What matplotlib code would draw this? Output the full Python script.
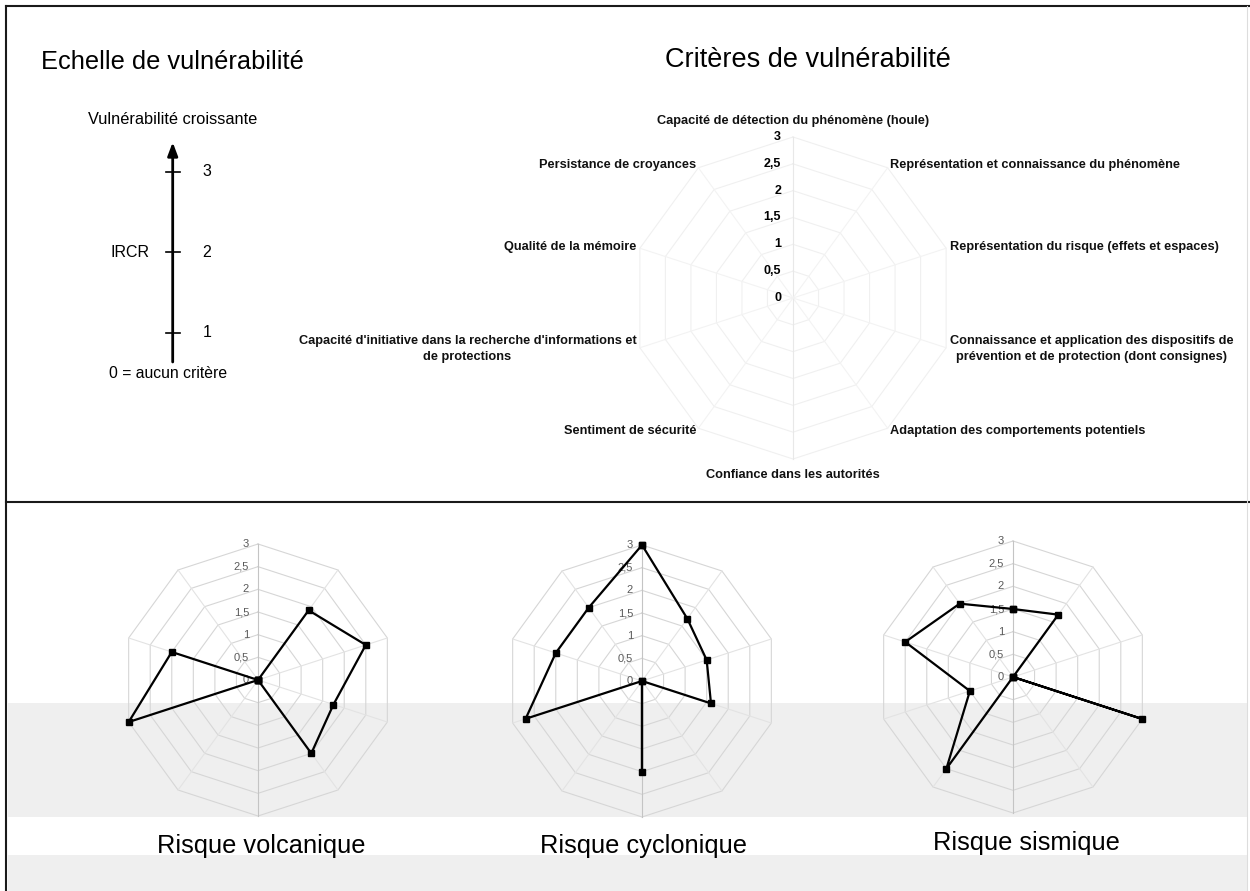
import numpy as np
import matplotlib
matplotlib.use('Agg')
import matplotlib.pyplot as plt
from matplotlib.patches import Rectangle
from matplotlib.transforms import offset_copy

plt.rcParams['font.family'] = ['Liberation Sans', 'DejaVu Sans']

# ---------------- data ----------------
criteres = [
    "Capacité de détection du phénomène (houle)",
    "Représentation et connaissance du phénomène",
    "Représentation du risque (effets et espaces)",
    "Connaissance et application des dispositifs de\nprévention et de protection (dont consignes)",
    "Adaptation des comportements potentiels",
    "Confiance dans les autorités",
    "Sentiment de sécurité",
    "Capacité d'initiative dans la recherche d'informations et\nde protections",
    "Qualité de la mémoire",
    "Persistance de croyances",
]
rticks = [0, 0.5, 1, 1.5, 2, 2.5, 3]
rtick_labels = ["0", "0,5", "1", "1,5", "2", "2,5", "3"]

volcanique = [0, 1.9, 2.5, 1.75, 2.0, 0, 0, 3.0, 2.0, 0]
cyclonique = [3.0, 1.7, 1.5, 1.6, 0, 2.0, 0, 2.7, 2.0, 2.0]
sismique = [1.5, 1.7, 0, 3.0, 0, 0, 2.5, 1.0, 2.5, 2.0]
titres_risques = ["Risque volcanique", "Risque cyclonique", "Risque sismique"]

echelle_niveaux = [1, 2, 3]
echelle_labels = ["1", "2", "3"]

# ---------------- figure ----------------
W, H = 1250, 891
fig = plt.figure(figsize=(12.5, 8.91), dpi=100)


def px_axes(x0, y0, w, h, **kw):
    return fig.add_axes([x0 / W, 1 - (y0 + h) / H, w / W, h / H], **kw)


ov = px_axes(0, 0, W, H)
ov.set_xlim(0, W)
ov.set_ylim(H, 0)
ov.axis('off')
ov.add_patch(Rectangle((8, 703), 1239, 114, facecolor='#efefef', lw=0, zorder=0))
ov.add_patch(Rectangle((8, 855), 1239, 36, facecolor='#efefef', lw=0, zorder=0))
ov.plot([6, 6], [6, H], color='#1a1a1a', lw=1.5)
ov.plot([6, W], [6, 6], color='#1a1a1a', lw=1.5)
ov.plot([6, W], [502, 502], color='#1a1a1a', lw=1.5)
ov.plot([1247, 1247], [6, H], color='#dddddd', lw=0.8)
ov.text(172, 62, "Echelle de vulnérabilité", fontsize=18.3, ha='center', va='center')
ov.text(808, 60, "Critères de vulnérabilité", fontsize=19.5, ha='center', va='center')

# ---------------- vulnerability scale ----------------
sc = px_axes(92.7, 130, 160, 270)
sc.set_xlim(-1, 1)
sc.set_ylim(0.1677, 3.5217)
sc.axis('off')
sc.annotate('', xy=(0, 3.37), xytext=(0, 0.64),
            arrowprops=dict(arrowstyle='-|>,head_length=0.8,head_width=0.3',
                            color='black', lw=2, shrinkA=0, shrinkB=0))
for v, lab in zip(echelle_niveaux, echelle_labels):
    sc.plot([-0.085, 0.085], [v, v], color='black', lw=1.2)
    sc.text(0.425, v, lab, fontsize=11.5, ha='center', va='center')
sc.text(-0.53, echelle_niveaux[1], "IRCR", fontsize=11.5, ha='center', va='center')
sc.text(0, 3.646, "Vulnérabilité croissante", fontsize=11.8, ha='center', va='center', clip_on=False)
sc.text(-0.06, 0.503, "0 = aucun critère", fontsize=11.3, ha='center', va='center', clip_on=False)

# ---------------- radar helper ----------------
n = len(criteres)
theta = np.linspace(0, 2 * np.pi, n, endpoint=False)
tc = np.append(theta, theta[0])


def radar(cx, cy, R, ring_color, spoke_color, axis_color):
    ax = px_axes(cx - R, cy - R, 2 * R, 2 * R, projection='polar')
    ax.set_theta_zero_location('N')
    ax.set_theta_direction(-1)
    ax.set_ylim(0, 3)
    ax.set_facecolor('none')
    ax.grid(False)
    ax.spines['polar'].set_visible(False)
    ax.set_xticks([])
    ax.set_yticks([])
    for r in rticks[1:]:
        ax.plot(tc, [r] * (n + 1), color=ring_color, lw=0.8, zorder=1, clip_on=False)
    for i, t in enumerate(theta):
        c = axis_color if i in (0, n // 2) else spoke_color
        ax.plot([t, t], [0, 3], color=c, lw=0.8, zorder=1, clip_on=False)
    return ax


# ---------------- top template radar ----------------
top = radar(793, 298, 161, '#f0f0f0', '#f3f3f3', '#e8e8e8')
trans_top = offset_copy(top.transData, fig=fig, x=-12, y=0, units='dots')
for r, lab in zip(rticks, rtick_labels):
    top.text(0, r, lab, transform=trans_top, fontsize=9, fontweight='bold',
             ha='right', va='center')
for t, lab in zip(theta, criteres):
    s = np.sin(t)
    if abs(s) < 0.1:
        ha, rr = 'center', 3.3
    elif s > 0:
        ha, rr = 'left', 3.07
    else:
        ha, rr = 'right', 3.07
    top.text(t, rr, lab, fontsize=9.2, fontweight='bold', ha=ha, va='center',
             multialignment='center', linespacing=1.45, color='#111111')

# ---------------- bottom radars ----------------
centres = [(258, 680), (642, 681), (1013, 677)]
series = [volcanique, cyclonique, sismique]
title_pos = [(261, 846), (644, 846), (1026, 843)]
for (cx, cy), vals, titre, (tx, ty) in zip(centres, series, titres_risques, title_pos):
    ax = radar(cx, cy, 136, '#d6d6d6', '#e3e3e3', '#c4c4c4')
    tr = offset_copy(ax.transData, fig=fig, x=-9, y=0, units='dots')
    for r, lab in zip(rticks, rtick_labels):
        ax.text(0, r, lab, transform=tr, fontsize=8, color='#5a5a5a',
                ha='right', va='center')
    vc = list(vals) + [vals[0]]
    ax.plot(tc, vc, color='black', lw=1.6, marker='s', markersize=4.5,
            zorder=5, clip_on=False)
    ov.text(tx, ty, titre, fontsize=18.3, ha='center', va='center')

fig.savefig('out.png', dpi=100)
